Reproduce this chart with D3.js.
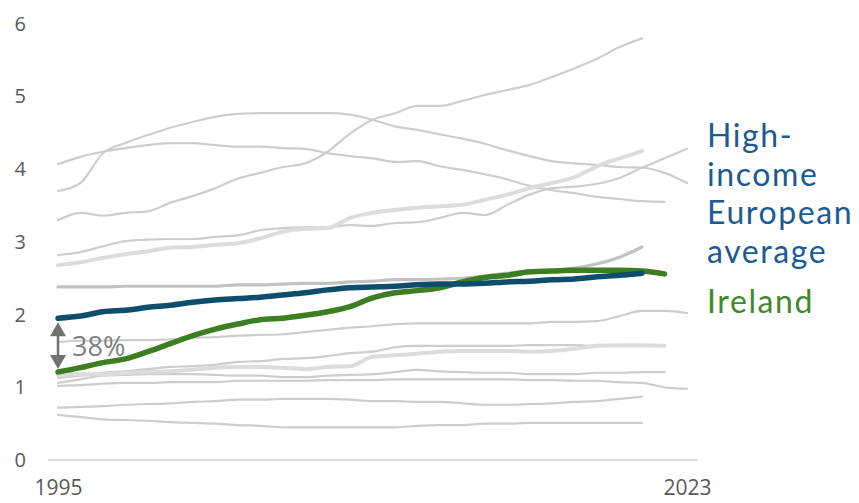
<!DOCTYPE html>
<html>
<head>
<meta charset="utf-8">
<script src="https://cdn.jsdelivr.net/npm/d3@7"></script>
<style>
  html, body { margin: 0; padding: 0; background: #ffffff; }
  svg { display: block; }
</style>
</head>
<body>
<svg id="chart" width="859" height="503"></svg>
<script>
// ---------- DATA ----------
const startYear = 1995;
const xTickLabels = [1995, 2023];
const yTickLabels = [0, 1, 2, 3, 4, 5, 6];

// Other high-income European countries (grey context lines), values from 1995 onward
const greyThinA = [3.70, 3.81, 4.22, 4.36, 4.47, 4.57, 4.65, 4.72, 4.76, 4.77, 4.77, 4.77, 4.77, 4.75, 4.68, 4.59, 4.54, 4.48, 4.42, 4.35, 4.26, 4.18, 4.11, 4.08, 4.06, 4.03, 4.02, 3.95, 3.81];
const greyThinB = [3.30, 3.40, 3.36, 3.40, 3.42, 3.54, 3.63, 3.74, 3.87, 3.95, 4.03, 4.08, 4.24, 4.49, 4.68, 4.77, 4.87, 4.87, 4.94, 5.02, 5.09, 5.16, 5.27, 5.39, 5.52, 5.68, 5.80];
const greyThinC = [4.07, 4.17, 4.24, 4.29, 4.33, 4.36, 4.36, 4.33, 4.31, 4.31, 4.29, 4.28, 4.22, 4.18, 4.15, 4.10, 4.11, 4.04, 3.99, 3.93, 3.86, 3.77, 3.71, 3.67, 3.62, 3.59, 3.56, 3.55];
const greyThinD = [2.82, 2.86, 2.94, 3.01, 3.03, 3.04, 3.04, 3.07, 3.09, 3.16, 3.19, 3.20, 3.20, 3.23, 3.22, 3.26, 3.27, 3.33, 3.40, 3.37, 3.51, 3.65, 3.74, 3.76, 3.80, 3.88, 4.02, 4.15, 4.28];
const greyThinE = [1.62, 1.64, 1.64, 1.65, 1.65, 1.66, 1.68, 1.69, 1.71, 1.72, 1.73, 1.76, 1.79, 1.82, 1.84, 1.87, 1.88, 1.88, 1.88, 1.88, 1.88, 1.88, 1.90, 1.90, 1.91, 1.98, 2.05, 2.05, 2.02];
const greyThinF = [1.13, 1.16, 1.20, 1.22, 1.25, 1.28, 1.29, 1.31, 1.35, 1.36, 1.39, 1.40, 1.43, 1.47, 1.49, 1.55, 1.57, 1.57, 1.57, 1.57, 1.57, 1.58, 1.58, 1.58, 1.57, 1.57, 1.58, 1.58];
const greyThinG = [1.06, 1.11, 1.16, 1.17, 1.18, 1.18, 1.18, 1.17, 1.16, 1.16, 1.14, 1.14, 1.16, 1.17, 1.18, 1.21, 1.24, 1.22, 1.21, 1.20, 1.20, 1.18, 1.18, 1.18, 1.20, 1.20, 1.21, 1.21];
const greyThinH = [1.02, 1.03, 1.05, 1.06, 1.06, 1.07, 1.07, 1.07, 1.09, 1.09, 1.09, 1.09, 1.10, 1.10, 1.10, 1.11, 1.11, 1.11, 1.11, 1.11, 1.11, 1.10, 1.10, 1.09, 1.09, 1.07, 1.06, 1.00, 0.98];
const greyThinI = [0.72, 0.73, 0.74, 0.76, 0.77, 0.78, 0.80, 0.81, 0.83, 0.83, 0.84, 0.84, 0.84, 0.83, 0.81, 0.81, 0.80, 0.80, 0.78, 0.76, 0.76, 0.77, 0.78, 0.80, 0.81, 0.84, 0.87];
const greyThinJ = [0.62, 0.59, 0.56, 0.55, 0.54, 0.52, 0.51, 0.50, 0.48, 0.47, 0.45, 0.45, 0.45, 0.45, 0.45, 0.45, 0.47, 0.48, 0.48, 0.50, 0.50, 0.51, 0.51, 0.51, 0.51, 0.51, 0.51];
const greyLightA = [2.68, 2.72, 2.78, 2.83, 2.87, 2.92, 2.93, 2.96, 2.98, 3.05, 3.14, 3.18, 3.19, 3.33, 3.40, 3.44, 3.47, 3.49, 3.51, 3.58, 3.65, 3.74, 3.81, 3.89, 4.04, 4.15, 4.25];
const greyLightB = [1.17, 1.18, 1.18, 1.20, 1.21, 1.22, 1.24, 1.27, 1.28, 1.28, 1.27, 1.25, 1.28, 1.29, 1.42, 1.44, 1.46, 1.49, 1.50, 1.50, 1.50, 1.49, 1.50, 1.53, 1.57, 1.58, 1.58, 1.57];
const greyMid = [2.38, 2.38, 2.38, 2.39, 2.39, 2.39, 2.39, 2.39, 2.41, 2.41, 2.42, 2.43, 2.43, 2.45, 2.46, 2.48, 2.48, 2.49, 2.50, 2.53, 2.57, 2.60, 2.61, 2.64, 2.70, 2.79, 2.93];

// Highlighted series
const europeAvg = [1.95, 1.98, 2.04, 2.06, 2.10, 2.13, 2.17, 2.20, 2.22, 2.24, 2.27, 2.30, 2.34, 2.37, 2.38, 2.39, 2.41, 2.42, 2.42, 2.43, 2.45, 2.46, 2.48, 2.49, 2.52, 2.54, 2.57];
const ireland = [1.21, 1.27, 1.34, 1.39, 1.49, 1.60, 1.71, 1.80, 1.87, 1.93, 1.95, 1.99, 2.04, 2.11, 2.23, 2.30, 2.33, 2.37, 2.45, 2.51, 2.54, 2.59, 2.60, 2.61, 2.61, 2.61, 2.60, 2.56];

const gapLabel = "38%";
const labelEurope = ["High-", "income", "European", "average"];
const labelIreland = "Ireland";

// ---------- DRAW ----------
const svg = d3.select("#chart");
const x = d3.scaleLinear().domain([1995, 2023]).range([58, 687]);
const y = d3.scaleLinear().domain([0, 6]).range([460, 23.8]);

const toPts = arr => arr.map((v, i) => [startYear + i, v]);
const line = d3.line().x(d => x(d[0])).y(d => y(d[1])).curve(d3.curveMonotoneX);

// baseline
svg.append("line")
  .attr("x1", 48).attr("x2", 698)
  .attr("y1", y(0)).attr("y2", y(0))
  .attr("stroke", "#d9d9d9").attr("stroke-width", 2);

const greys = [
  { d: greyThinA, c: "#cdcdcd", w: 2.2 },
  { d: greyThinB, c: "#cdcdcd", w: 2.2 },
  { d: greyThinC, c: "#cdcdcd", w: 2.2 },
  { d: greyThinD, c: "#cdcdcd", w: 2.2 },
  { d: greyThinE, c: "#cdcdcd", w: 2.2 },
  { d: greyThinF, c: "#cdcdcd", w: 2.2 },
  { d: greyThinG, c: "#cdcdcd", w: 2.2 },
  { d: greyThinH, c: "#cdcdcd", w: 2.2 },
  { d: greyThinI, c: "#cdcdcd", w: 2.2 },
  { d: greyThinJ, c: "#cdcdcd", w: 2.2 },
  { d: greyLightA, c: "#dcdcdc", w: 4 },
  { d: greyLightB, c: "#dcdcdc", w: 4 },
  { d: greyMid, c: "#c2c2c2", w: 3.2 }
];

svg.append("g").selectAll("path").data(greys).join("path")
  .attr("d", s => line(toPts(s.d)))
  .attr("fill", "none")
  .attr("stroke", s => s.c)
  .attr("stroke-width", s => s.w)
  .attr("stroke-linejoin", "round")
  .attr("stroke-linecap", "round");

svg.append("path")
  .attr("d", line(toPts(ireland)))
  .attr("fill", "none").attr("stroke", "#3b7f22")
  .attr("stroke-width", 5.5).attr("stroke-linecap", "round").attr("stroke-linejoin", "round");

svg.append("path")
  .attr("d", line(toPts(europeAvg)))
  .attr("fill", "none").attr("stroke", "#0e4d6b")
  .attr("stroke-width", 5.5).attr("stroke-linecap", "round").attr("stroke-linejoin", "round");

// axes
const fontFam = "'Open Sans', 'Lato', sans-serif";
const yAxis = svg.append("g")
  .attr("transform", "translate(30,0)")
  .call(d3.axisLeft(y).tickValues(yTickLabels).tickSize(0).tickPadding(4).tickFormat(d3.format("d")));
yAxis.select(".domain").remove();
yAxis.selectAll("text")
  .attr("font-family", fontFam).attr("font-size", 20).attr("fill", "#595959");

const xAxis = svg.append("g")
  .attr("transform", `translate(0,${y(0)})`)
  .call(d3.axisBottom(x).tickValues(xTickLabels).tickSize(0).tickPadding(20).tickFormat(d3.format("d")));
xAxis.select(".domain").remove();
xAxis.selectAll("text")
  .attr("font-family", fontFam).attr("font-size", 21).attr("fill", "#595959");

// gap annotation arrow
const ax = x(1995);
const yTop = y(europeAvg[0]) + 4;
const yBot = y(ireland[0]) - 3;
const headH = 14, headW = 8;
svg.append("line")
  .attr("x1", ax).attr("x2", ax)
  .attr("y1", yTop + headH - 2).attr("y2", yBot - headH + 2)
  .attr("stroke", "#767171").attr("stroke-width", 2.5);
svg.append("path")
  .attr("d", `M${ax},${yTop} L${ax - headW},${yTop + headH} L${ax + headW},${yTop + headH} Z`)
  .attr("fill", "#767171");
svg.append("path")
  .attr("d", `M${ax},${yBot} L${ax - headW},${yBot - headH} L${ax + headW},${yBot - headH} Z`)
  .attr("fill", "#767171");
svg.append("text")
  .attr("x", ax + 14).attr("y", (yTop + yBot) / 2 + 10)
  .attr("font-family", fontFam).attr("font-size", 27).attr("fill", "#7f7f7f")
  .text(gapLabel);

// series labels
const labelFont = "Lato, 'Open Sans', sans-serif";
svg.append("g").selectAll("text").data(labelEurope).join("text")
  .attr("x", 707).attr("y", (d, i) => 147 + i * 38.5)
  .attr("font-family", labelFont).attr("font-size", 32)
  .attr("letter-spacing", 1.6).attr("fill", "#1b5a92")
  .text(d => d);

svg.append("text")
  .attr("x", 707).attr("y", 313)
  .attr("font-family", labelFont).attr("font-size", 32)
  .attr("letter-spacing", 1.6).attr("fill", "#3d8a2a")
  .text(labelIreland);
</script>
</body>
</html>
